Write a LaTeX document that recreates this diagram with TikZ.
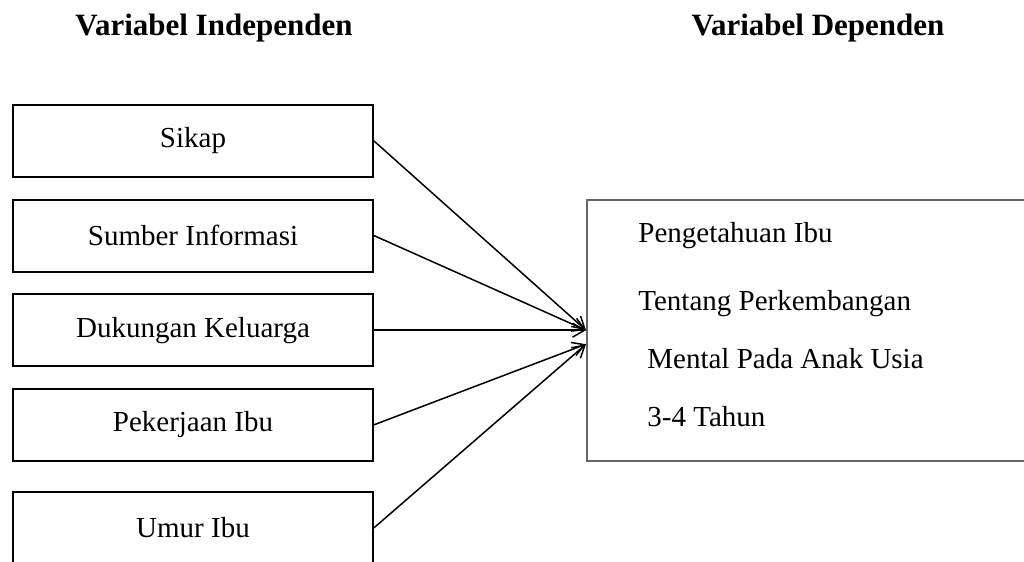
\documentclass[tikz,border=0pt]{standalone}
\usepackage{fontspec}
\setmainfont{Liberation Serif}
\usetikzlibrary{arrows.meta,positioning}

\begin{document}
\begin{tikzpicture}[
x=0.5pt, y=-0.5pt,
varnode/.style={rectangle, draw, line width=1pt, minimum width=180pt, minimum height=36pt, font=\fontsize{14.5}{17}\selectfont},
depnode/.style={rectangle, draw=black!60, line width=1pt, minimum width=221.5pt, minimum height=130.5pt},
headnode/.style={anchor=base, font=\fontsize{15.5}{18}\selectfont\bfseries},
node distance=10.3pt]
\useasboundingbox (0,0) rectangle (1024,562);
% Headings
\node[headnode] (hind) at (214,35) {Variabel Independen};
\node[headnode] (hdep) at (818,35) {Variabel Dependen};
% Nodes
\node[varnode] (sikap) at (193,141) {Sikap};
\node[varnode] (sumber) [below=of sikap] {Sumber Informasi};
\node[varnode] (dukungan) [below=of sumber] {Dukungan Keluarga};
\node[varnode] (pekerjaan) [below=of dukungan] {Pekerjaan Ibu};
\node[varnode] (umur) [below=14.5pt of pekerjaan] {Umur Ibu};
\node[depnode] (pengetahuan) [right=106pt of dukungan] {};
\node[anchor=north west, align=left, inner sep=0pt, font=\fontsize{14.5}{29}\selectfont] (pengtext) at (638,222)
  {Pengetahuan Ibu\\[5pt] Tentang Perkembangan\\ \hspace*{4.5pt}Mental Pada Anak Usia\\ \hspace*{4.5pt}3-4 Tahun};
\coordinate (tip) at ([yshift=-7pt]pengetahuan.west);
% Lines
\draw[line width=0.75pt, arrows={-Straight Barb[length=6pt,width=7pt]}] (sikap.east) -- (pengetahuan.west);
\draw[line width=0.75pt, arrows={-Straight Barb[length=6pt,width=7pt]}] (sumber.east) -- (pengetahuan.west);
\draw[line width=0.75pt, arrows={-Straight Barb[length=6pt,width=7pt]}] (dukungan.east) -- (pengetahuan.west);
\draw[line width=0.75pt, arrows={-Straight Barb[length=6pt,width=7pt]}] (pekerjaan.east) -- (tip);
\draw[line width=0.75pt, arrows={-Straight Barb[length=6pt,width=7pt]}] (umur.east) -- (tip);
\end{tikzpicture}
\end{document}
